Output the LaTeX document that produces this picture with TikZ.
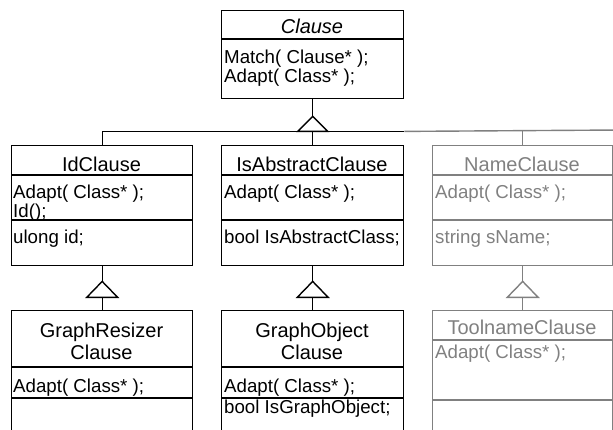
\documentclass[tikz,border=0pt]{standalone}
\usepackage{fontspec}
\setmainfont{Liberation Sans}
\usetikzlibrary{calc}
\definecolor{faded}{gray}{0.5}
\tikzset{
  classbox/.style={draw, rectangle, line width=1.4pt, inner sep=0pt, anchor=north west},
  classname/.style={font=\fontsize{20}{22}\selectfont, anchor=base, inner sep=0pt},
  member/.style={font=\fontsize{18.7}{19}\selectfont, anchor=base west, inner sep=0pt},
  link/.style={line width=1.4pt},
  inherit/.style={line width=1.4pt, fill=white},
}
\begin{document}
\begin{tikzpicture}[x=1pt, y=-1pt]
    \useasboundingbox (0,0) rectangle (613,429);
    \clip (0,0) rectangle (613,429);

    % Clause (abstract base)
    \node[classbox, minimum width=182pt, minimum height=88pt] (clause) at (221,10) {};
    \draw[link] ($(clause.north west)+(0,29)$) -- ($(clause.north east)+(0,29)$);
    \node[classname, font=\fontsize{20}{22}\selectfont\itshape] (clausetitle) at (312,33) {Clause};
    \node[member] (clausematch) at (224,63) {Match( Clause* );};
    \node[member] (clauseadapt) at (224,82) {Adapt( Class* );};

    % IdClause
    \node[classbox, minimum width=181pt, minimum height=120pt] (idclause) at (11,145) {};
    \draw[link] ($(idclause.north west)+(0,30)$) -- ($(idclause.north east)+(0,30)$);
    \draw[link] ($(idclause.north west)+(0,75)$) -- ($(idclause.north east)+(0,75)$);
    \node[classname] (idtitle) at (101.5,171) {IdClause};
    \node[member] (idadapt) at (13,198) {Adapt( Class* );};
    \node[member] (idid) at (13,217) {Id();};
    \node[member] (idattr) at (13,243) {ulong id;};

    % IsAbstractClause
    \node[classbox, minimum width=182pt, minimum height=120pt] (abstractclause) at (221,145) {};
    \draw[link] ($(abstractclause.north west)+(0,30)$) -- ($(abstractclause.north east)+(0,30)$);
    \draw[link] ($(abstractclause.north west)+(0,75)$) -- ($(abstractclause.north east)+(0,75)$);
    \node[classname] (abstracttitle) at (312,171) {IsAbstractClause};
    \node[member] (abstractadapt) at (224,198) {Adapt( Class* );};
    \node[member] (abstractattr) at (224,243) {bool IsAbstractClass;};

    % NameClause (greyed out)
    \node[classbox, draw=faded, minimum width=180pt, minimum height=120pt] (nameclause) at (432,145) {};
    \draw[link, faded] ($(nameclause.north west)+(0,30)$) -- ($(nameclause.north east)+(0,30)$);
    \draw[link, faded] ($(nameclause.north west)+(0,75)$) -- ($(nameclause.north east)+(0,75)$);
    \node[classname, text=faded] (nametitle) at (522,171) {NameClause};
    \node[member, text=faded] (nameadapt) at (435,198) {Adapt( Class* );};
    \node[member, text=faded] (nameattr) at (435,243) {string sName;};

    % inheritance from Clause
    \coordinate (topapex) at ($(clause.south)+(0,17)$);
    \coordinate (bus) at ($(topapex)+(0,15)$);
    \coordinate (busend) at (620,130);
    \draw[link] (clause.south) -- (topapex);
    \draw[link] (idclause.north) |- (abstractclause.north east |- bus);
    \draw[link] (abstractclause.north) -- (abstractclause.north |- bus);
    \draw[link, faded] (abstractclause.north east |- bus) -- (busend);
    \draw[link, faded] (nameclause.north) -- (nameclause.north |- bus);
    \draw[inherit] (topapex) -- ++(-15,15) -- ++(30,0) -- cycle;

    % GraphResizer Clause
    \node[classbox, minimum width=181pt, minimum height=135pt] (resizerclause) at (11,310) {};
    \draw[link] ($(resizerclause.north west)+(0,57)$) -- ($(resizerclause.north east)+(0,57)$);
    \draw[link] ($(resizerclause.north west)+(0,88)$) -- ($(resizerclause.north east)+(0,88)$);
    \node[classname] (resizertitle) at (101.5,337) {GraphResizer};
    \node[classname] (resizertitlb) at (101.5,359) {Clause};
    \node[member] (resizeradapt) at (13,392) {Adapt( Class* );};

    % GraphObject Clause
    \node[classbox, minimum width=182pt, minimum height=135pt] (objectclause) at (221,310) {};
    \draw[link] ($(objectclause.north west)+(0,57)$) -- ($(objectclause.north east)+(0,57)$);
    \draw[link] ($(objectclause.north west)+(0,88)$) -- ($(objectclause.north east)+(0,88)$);
    \node[classname] (objecttitle) at (312,337) {GraphObject};
    \node[classname] (objecttitlb) at (312,359) {Clause};
    \node[member] (objectadapt) at (224,392) {Adapt( Class* );};
    \node[member] (objectattr) at (224,413) {bool IsGraphObject;};

    % ToolnameClause (greyed out)
    \node[classbox, draw=faded, minimum width=180pt, minimum height=135pt] (toolclause) at (432,310) {};
    \draw[link, faded] ($(toolclause.north west)+(0,30)$) -- ($(toolclause.north east)+(0,30)$);
    \draw[link, faded] ($(toolclause.north west)+(0,90)$) -- ($(toolclause.north east)+(0,90)$);
    \node[classname, text=faded] (tooltitle) at (522,334) {ToolnameClause};
    \node[member, text=faded] (tooladapt) at (435,358) {Adapt( Class* );};

    % inheritance, second level
    \coordinate (idapex) at ($(idclause.south)+(0,15)$);
    \draw[link] (idclause.south) -- (idapex);
    \draw[link] ($(idapex)+(0,16)$) -- (resizerclause.north);
    \draw[inherit] (idapex) -- ++(-15.5,16) -- ++(31,0) -- cycle;

    \coordinate (abstractapex) at ($(abstractclause.south)+(0,15)$);
    \draw[link] (abstractclause.south) -- (abstractapex);
    \draw[link] ($(abstractapex)+(0,16)$) -- (objectclause.north);
    \draw[inherit] (abstractapex) -- ++(-15.5,16) -- ++(31,0) -- cycle;

    \coordinate (nameapex) at ($(nameclause.south)+(0,15)$);
    \draw[link, faded] (nameclause.south) -- (nameapex);
    \draw[link, faded] ($(nameapex)+(0,16)$) -- (toolclause.north);
    \draw[inherit, draw=faded] (nameapex) -- ++(-15.5,16) -- ++(31,0) -- cycle;
\end{tikzpicture}
\end{document}
